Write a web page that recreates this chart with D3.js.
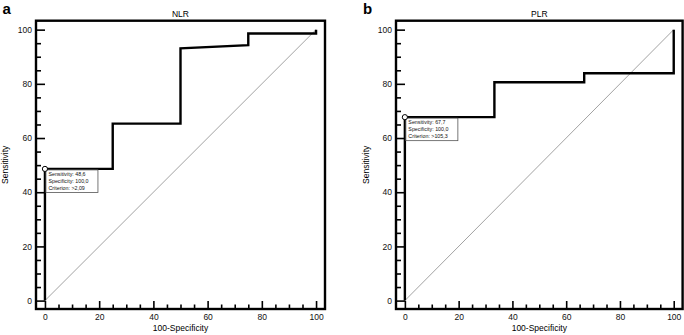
<!DOCTYPE html>
<html>
<head>
<meta charset="utf-8">
<script src="https://cdn.jsdelivr.net/npm/d3@7"></script>
<style>
  body { margin: 0; background: #fff; }
  svg { display: block; font-family: "Liberation Sans", Arial, sans-serif; }
</style>
</head>
<body>
<div id="chart"></div>
<script>
// ROC curve points (100-Specificity, Sensitivity)
const nlrFpr = [0, 0, 25, 25, 50, 50, 75, 75, 100, 100];
const nlrTpr = [0, 48.6, 48.6, 65.3, 65.3, 93.1, 94.3, 98.6, 98.6, 100];
const plrFpr = [0, 0, 33.3, 33.3, 66.7, 66.7, 100, 100];
const plrTpr = [0, 67.7, 67.7, 80.6, 80.6, 83.9, 83.9, 100];

// optimal criterion points and their labels
const nlrCriterion = { fpr: 0, tpr: 48.6, lines: ["Sensitivity: 48,6", "Specificity: 100,0", "Criterion: >2,09"] };
const plrCriterion = { fpr: 0, tpr: 67.7, lines: ["Sensitivity: 67,7", "Specificity: 100,0", "Criterion: >105,3"] };

const majorTicks = [0, 20, 40, 60, 80, 100];
const minorTicks = d3.range(0, 101, 5).filter(v => v % 20 !== 0);

const panelNames = ["NLR", "PLR"];
const panelLetters = ["a", "b"];

const svg = d3.select("#chart").append("svg")
    .attr("width", 684)
    .attr("height", 335);

function drawPanel(opts) {
    const g = svg.append("g");

    const x = d3.scaleLinear().domain([-3.3, 103.3]).range([opts.left, opts.right]);
    const y = d3.scaleLinear().domain([-3.1, 103.3]).range([309, 20.7]);

    // diagonal reference line
    g.append("line")
        .attr("x1", x(0)).attr("y1", y(0))
        .attr("x2", x(100)).attr("y2", y(100))
        .attr("stroke", "#8a8a8a")
        .attr("stroke-width", 0.8);

    // Y axis: major + minor ticks pointing inward
    const yMajor = g.append("g")
        .attr("transform", `translate(${opts.left},0)`)
        .call(d3.axisLeft(y).tickValues(majorTicks).tickSizeInner(-9).tickSizeOuter(0).tickPadding(4));
    const yMinor = g.append("g")
        .attr("transform", `translate(${opts.left},0)`)
        .call(d3.axisLeft(y).tickValues(minorTicks).tickSizeInner(-5).tickSizeOuter(0).tickFormat(""));

    // X axis
    const xMajor = g.append("g")
        .attr("transform", `translate(0,309)`)
        .call(d3.axisBottom(x).tickValues(majorTicks).tickSizeInner(-8).tickSizeOuter(0).tickPadding(5));
    const xMinor = g.append("g")
        .attr("transform", `translate(0,309)`)
        .call(d3.axisBottom(x).tickValues(minorTicks).tickSizeInner(-4.5).tickSizeOuter(0).tickFormat(""));

    [yMajor, yMinor, xMajor, xMinor].forEach(a => {
        a.select(".domain").remove();
        a.selectAll(".tick line").attr("stroke", "#000").attr("stroke-width", 1.6);
        a.selectAll(".tick text")
            .attr("fill", "#111")
            .style("font-size", "8.5px")
            .style("font-family", "'Liberation Sans', Arial, sans-serif");
    });

    // frame
    g.append("rect")
        .attr("x", opts.left)
        .attr("y", 20.7)
        .attr("width", opts.right - opts.left)
        .attr("height", 309 - 20.7)
        .attr("fill", "none")
        .attr("stroke", "#000")
        .attr("stroke-width", 2.4);

    // ROC curve
    const line = d3.line()
        .x(d => x(d[0]))
        .y(d => y(d[1]));
    g.append("path")
        .datum(opts.fpr.map((f, i) => [f, opts.tpr[i]]))
        .attr("d", line)
        .attr("fill", "none")
        .attr("stroke", "#000")
        .attr("stroke-width", 2.4)
        .attr("stroke-linejoin", "miter");

    // criterion box and marker
    const cx = x(opts.crit.fpr), cy = y(opts.crit.tpr);
    const box = g.append("g").attr("transform", `translate(${cx + 1},${cy + 1})`);
    box.append("rect")
        .attr("width", 52)
        .attr("height", 22.5)
        .attr("fill", "#fff")
        .attr("stroke", "#555")
        .attr("stroke-width", 0.8);
    box.selectAll("text")
        .data(opts.crit.lines)
        .join("text")
        .attr("x", 2.5)
        .attr("y", (d, i) => 6 + i * 7)
        .style("font-size", "5.3px")
        .attr("fill", "#111")
        .text(d => d);
    g.append("circle")
        .attr("cx", cx)
        .attr("cy", cy)
        .attr("r", 2.6)
        .attr("fill", "#fff")
        .attr("stroke", "#000")
        .attr("stroke-width", 1);

    // titles and labels
    const mid = (x(0) + x(100)) / 2;
    g.append("text")
        .attr("x", mid)
        .attr("y", 16.5)
        .attr("text-anchor", "middle")
        .style("font-size", "8.5px")
        .text(opts.name);

    g.append("text")
        .attr("x", mid)
        .attr("y", 331)
        .attr("text-anchor", "middle")
        .style("font-size", "8.5px")
        .text("100-Specificity");

    g.append("text")
        .attr("transform", "rotate(-90)")
        .attr("x", -(20.7 + 309) / 2)
        .attr("y", opts.labelX)
        .attr("text-anchor", "middle")
        .style("font-size", "8.5px")
        .text("Sensitivity");

    g.append("text")
        .attr("x", opts.letterX)
        .attr("y", 13.5)
        .style("font-size", "15px")
        .style("font-weight", "bold")
        .text(opts.letter);
}

drawPanel({ left: 36, right: 325, fpr: nlrFpr, tpr: nlrTpr, crit: nlrCriterion,
    name: panelNames[0], letter: panelLetters[0], letterX: 2.5, labelX: 7.5 });
drawPanel({ left: 396, right: 682.6, fpr: plrFpr, tpr: plrTpr, crit: plrCriterion,
    name: panelNames[1], letter: panelLetters[1], letterX: 363, labelX: 368.5 });
</script>
</body>
</html>
